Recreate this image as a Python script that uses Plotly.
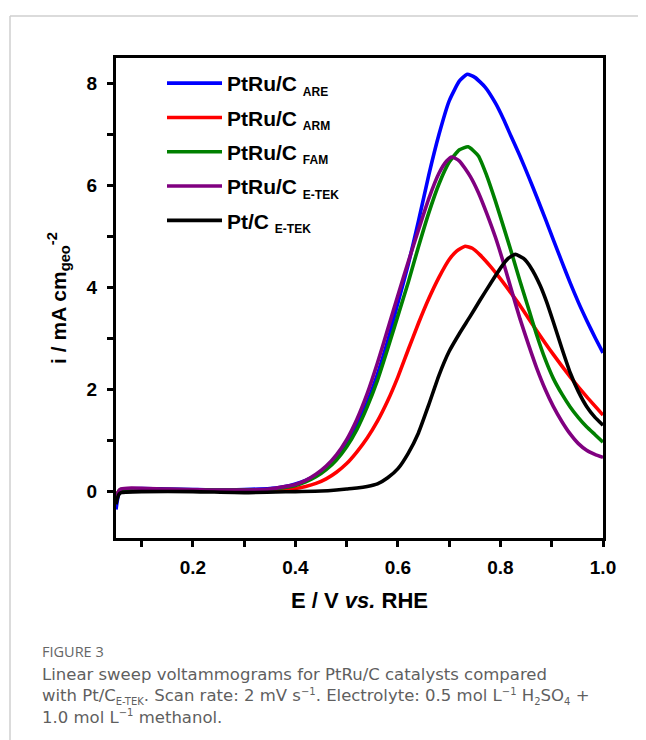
import plotly.graph_objects as go

# ---------------- data ----------------
E_are = [0.050,0.053,0.056,0.060,0.070,0.100,0.150,0.200,0.250,0.300,0.350,0.380,0.400,0.420,0.440,0.460,0.480,0.500,0.520,0.540,0.560,0.580,0.600,0.620,0.640,0.660,0.680,0.700,0.720,0.735,0.750,0.770,0.790,0.806,0.820,0.838,0.855,0.871,0.887,0.903,0.920,0.936,0.952,0.968,0.984,1.000]
I_are = [-0.35,-0.15,-0.02,0.03,0.05,0.06,0.05,0.04,0.03,0.04,0.06,0.10,0.15,0.22,0.32,0.46,0.66,0.93,1.30,1.75,2.30,2.95,3.70,4.45,5.30,6.20,7.00,7.66,8.05,8.18,8.12,7.93,7.62,7.30,6.98,6.58,6.17,5.77,5.36,4.94,4.50,4.09,3.71,3.36,3.03,2.72]

E_arm = [0.050,0.053,0.056,0.060,0.080,0.150,0.250,0.350,0.400,0.420,0.440,0.460,0.480,0.500,0.520,0.540,0.560,0.580,0.600,0.620,0.640,0.660,0.680,0.700,0.715,0.731,0.745,0.760,0.780,0.800,0.820,0.840,0.871,0.903,0.936,0.968,1.000]
I_arm = [-0.10,-0.03,0.01,0.02,0.03,0.02,0.01,0.03,0.06,0.10,0.16,0.25,0.38,0.55,0.78,1.05,1.38,1.78,2.25,2.78,3.30,3.78,4.20,4.55,4.72,4.81,4.77,4.64,4.42,4.17,3.90,3.62,3.15,2.69,2.25,1.86,1.50]

E_fam = [0.050,0.053,0.056,0.060,0.080,0.150,0.250,0.350,0.400,0.420,0.440,0.460,0.480,0.500,0.520,0.540,0.560,0.580,0.600,0.620,0.640,0.660,0.680,0.700,0.720,0.737,0.757,0.773,0.790,0.806,0.822,0.838,0.855,0.871,0.887,0.903,0.920,0.936,0.952,0.968,0.984,1.000]
I_fam = [-0.12,-0.04,0.02,0.04,0.05,0.04,0.03,0.04,0.12,0.19,0.29,0.43,0.62,0.88,1.22,1.66,2.18,2.80,3.45,4.10,4.80,5.46,6.03,6.46,6.70,6.76,6.58,6.20,5.70,5.19,4.67,4.13,3.58,3.06,2.60,2.22,1.91,1.66,1.45,1.27,1.12,0.97]

E_etek = [0.050,0.053,0.056,0.060,0.080,0.150,0.250,0.350,0.400,0.420,0.440,0.460,0.480,0.500,0.520,0.540,0.560,0.580,0.600,0.620,0.640,0.660,0.680,0.695,0.705,0.720,0.741,0.757,0.773,0.790,0.806,0.822,0.838,0.855,0.871,0.887,0.903,0.920,0.936,0.952,0.968,0.984,1.000]
I_etek = [-0.15,-0.05,0.02,0.05,0.07,0.05,0.03,0.05,0.14,0.22,0.34,0.50,0.72,1.02,1.42,1.92,2.52,3.18,3.85,4.50,5.13,5.74,6.24,6.48,6.56,6.48,6.18,5.86,5.46,4.99,4.48,3.93,3.39,2.87,2.41,2.01,1.67,1.37,1.13,0.94,0.81,0.73,0.67]

E_pt = [0.050,0.053,0.056,0.060,0.070,0.100,0.200,0.300,0.400,0.450,0.480,0.500,0.520,0.540,0.560,0.580,0.600,0.620,0.640,0.660,0.680,0.700,0.720,0.740,0.760,0.780,0.800,0.815,0.829,0.845,0.860,0.877,0.890,0.903,0.920,0.936,0.952,0.968,0.984,1.000]
I_pt = [-0.25,-0.12,-0.05,-0.02,-0.01,0.00,0.00,-0.02,0.00,0.01,0.03,0.05,0.07,0.10,0.15,0.27,0.45,0.75,1.15,1.70,2.28,2.75,3.10,3.42,3.75,4.07,4.38,4.57,4.65,4.57,4.38,4.05,3.72,3.33,2.80,2.33,1.96,1.67,1.46,1.30]

series_names = ["PtRu/C <sub><span style='font-size:12px'>ARE</span></sub>",
                "PtRu/C <sub><span style='font-size:12px'>ARM</span></sub>",
                "PtRu/C <sub><span style='font-size:12px'>FAM</span></sub>",
                "PtRu/C <sub><span style='font-size:12px'>E-TEK</span></sub>",
                "Pt/C <sub><span style='font-size:12px'>E-TEK</span></sub>"]
series_colors = ["#0000FF", "#FF0000", "#008000", "#800080", "#000000"]
series_E = [E_are, E_arm, E_fam, E_etek, E_pt]
series_I = [I_are, I_arm, I_fam, I_etek, I_pt]

x_tickvals = [0.2, 0.4, 0.6, 0.8, 1.0]
x_ticktext = ["0.2", "0.4", "0.6", "0.8", "1.0"]
x_minor = [0.1, 0.3, 0.5, 0.7, 0.9]
y_tickvals = [0, 2, 4, 6, 8]
y_ticktext = ["0", "2", "4", "6", "8"]
y_minor = [1, 3, 5, 7]

SUP = "<sup><span style='font-size:10px'>\u22121</span></sup>"
def SUB(t):
    return "<sub><span style='font-size:10px'>" + t + "</span></sub>"

caption_head = "FIGURE 3"
caption_lines = [
    "Linear sweep voltammograms for PtRu/C catalysts compared",
    "with Pt/C" + SUB("E-TEK") + ". Scan rate: 2 mV s" + SUP + ". Electrolyte: 0.5 mol L" + SUP
    + " H" + SUB("2") + "SO" + SUB("4") + " +",
    "1.0 mol L" + SUP + " methanol.",
]

# ---------------- layout geometry (page pixel coordinates; body has 8px margin) ----------------
OFF = 8
PAGE_W, PAGE_H = 646, 740
W, H = PAGE_W - OFF, PAGE_H - OFF
L, R, T, B = 116, 603, 58, 538

def px(x):
    return (x - L) / (R - L)

def py(y):
    return (B - y) / (B - T)

FONT = "Liberation Sans, Arial, sans-serif"

fig = go.Figure()
for i, (name, col, ex, iy) in enumerate(zip(series_names, series_colors, series_E, series_I)):
    fig.add_trace(go.Scatter(
        x=ex, y=iy, mode="lines", name=name,
        line=dict(color=col, width=3.6, shape="spline", smoothing=0.5),
        legendgroup=f"g{i}",
    ))

axis_common = dict(
    showline=True, linecolor="black", linewidth=3, mirror=True,
    ticks="outside", tickcolor="black", tickwidth=3, ticklen=6,
    showgrid=False, zeroline=False,
    tickfont=dict(family=FONT, size=19, color="black", weight=700),
)

fig.update_xaxes(
    range=[0.05, 1.0], tickvals=x_tickvals, ticktext=x_ticktext,
    minor=dict(ticks="outside", tickvals=x_minor, ticklen=6, tickwidth=3, tickcolor="black"),
    title=dict(text="E / V <i>vs.</i> RHE", font=dict(family=FONT, size=22, color="black", weight=700), standoff=16),
    ticklabelstandoff=4,
    **axis_common,
)
fig.update_yaxes(
    range=[-0.91, 8.5], tickvals=y_tickvals, ticktext=y_ticktext,
    minor=dict(ticks="outside", tickvals=y_minor, ticklen=6, tickwidth=3, tickcolor="black"),
    title=dict(text="i / mA cm<sub>geo</sub><sup>-2</sup>", font=dict(family=FONT, size=21, color="black", weight=700), standoff=15),
    ticklabelstandoff=6,
    **axis_common,
)

shapes = [
    dict(type="line", xref="paper", yref="paper", x0=px(10), x1=px(PAGE_W), y0=py(16), y1=py(16),
         line=dict(color="#cfcfcf", width=1.5)),
    dict(type="line", xref="paper", yref="paper", x0=px(10), x1=px(10), y0=py(16), y1=py(PAGE_H),
         line=dict(color="#cfcfcf", width=1.5)),
]

annotations = [
    dict(text=caption_head, xref="paper", yref="paper", x=px(40), y=py(651), xanchor="left", yanchor="middle",
         showarrow=False, font=dict(family="Open Sans, sans-serif", size=14.5, color="#666666")),
    dict(text="<br>".join(caption_lines), xref="paper", yref="paper", x=px(40), y=py(696),
         xanchor="left", yanchor="middle", showarrow=False, align="left",
         font=dict(family="DejaVu Sans, sans-serif", size=16.5, color="#5f5f5f")),
]

fig.update_layout(
    width=W, height=H,
    margin=dict(l=L - OFF, r=PAGE_W - R, t=T - OFF, b=PAGE_H - B, pad=0),
    paper_bgcolor="white", plot_bgcolor="white",
    showlegend=True,
    legend=dict(x=px(162), y=py(63), xanchor="left", yanchor="top", bgcolor="rgba(0,0,0,0)",
                font=dict(family=FONT, size=21, color="black", weight=700),
                tracegroupgap=4, itemwidth=55),
    shapes=shapes, annotations=annotations,
)

fig.write_html("out.html")
